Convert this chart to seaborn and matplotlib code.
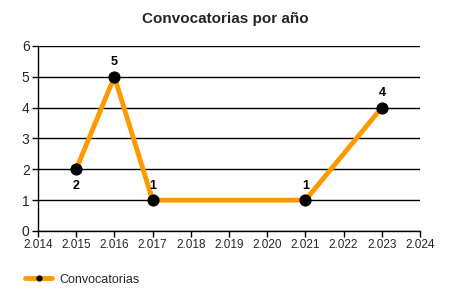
import matplotlib
matplotlib.use("Agg")
import matplotlib.pyplot as plt
import seaborn as sns
import pandas as pd
from matplotlib.ticker import FuncFormatter, MultipleLocator
from matplotlib.lines import Line2D

years = [2015, 2016, 2017, 2021, 2023]
values = [2, 5, 1, 1, 4]
label_pos = ["below", "above", "above", "above", "above"]
series_name = "Convocatorias"

df = pd.DataFrame({"year": years, "value": values})

sns.set_style("white")
plt.rcParams['font.family'] = ['Liberation Sans', 'DejaVu Sans']

fig = plt.figure(figsize=(4.5, 3.0), dpi=100)
ax = fig.add_axes([0.0844, 0.23, 0.849, 0.617])

sns.lineplot(data=df, x="year", y="value", ax=ax, color="#FF9900", linewidth=3.5,
             marker="o", markersize=8, markerfacecolor="black", markeredgecolor="black",
             legend=False, zorder=3)

for x, y, p in zip(years, values, label_pos):
    off = 6 if p == "above" else -8
    ax.annotate(str(y), (x, y), xytext=(0, off), textcoords="offset points",
                ha="center", va="bottom" if p == "above" else "top",
                fontsize=9, fontweight="bold", color="black")

ax.set_xlim(2014, 2024)
ax.set_ylim(0, 6)
ax.xaxis.set_major_locator(MultipleLocator(1))
ax.yaxis.set_major_locator(MultipleLocator(1))
ax.xaxis.set_major_formatter(FuncFormatter(lambda v, p: f"{int(round(v)) // 1000}.{int(round(v)) % 1000:03d}"))
ax.grid(axis="y", color="black", linewidth=1)
ax.set_axisbelow(True)
for s in ["top", "right"]:
    ax.spines[s].set_visible(False)
for s in ["left", "bottom"]:
    ax.spines[s].set_color("black")
    ax.spines[s].set_linewidth(1)
ax.tick_params(axis="both", direction="out", length=4, width=1, color="black",
               labelsize=8.5, pad=2, bottom=True, left=True)
ax.tick_params(axis="y", labelsize=10)
ax.set_xlabel("")
ax.set_ylabel("")

fig.suptitle("Convocatorias por año", x=0.5, y=0.96, fontsize=11, fontweight="bold")

handle = Line2D([0], [0], color="#FF9900", linewidth=3.5, marker="o", markersize=3.5,
                markerfacecolor="black", markeredgecolor="black")
fig.legend([handle], [series_name], loc="lower left", bbox_to_anchor=(0.03, 0.01),
           frameon=False, fontsize=9, handlelength=2.2, handletextpad=0.6)

fig.savefig("out.png", dpi=100)
